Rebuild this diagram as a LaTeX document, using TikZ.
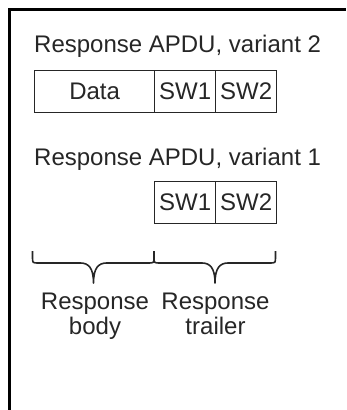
\documentclass[tikz,border=0pt]{standalone}
\usepackage{fontspec}
\setmainfont{Liberation Sans}
\usetikzlibrary{calc}
% curly brace hanging below a span: #1 left end, #2 right end (x values), #3 tip x
\newcommand\spanbrace[3]{%
  \draw[bracepath] (#1,251) -- (#1,257) .. controls (#1,263) .. ($(#1,263)+(6,0)$)
    -- ($(#3,263)-(13,0)$) .. controls ($(#3,263)-(5,0)$) and (#3,268) .. (#3,283)
    .. controls (#3,268) and ($(#3,263)+(5,0)$) .. ($(#3,263)+(13,0)$)
    -- ($(#2,263)-(6,0)$) .. controls (#2,263) .. (#2,257) -- (#2,251);}
\begin{document}
\begin{tikzpicture}[x=1pt,y=-1pt,
  txt/.style={font=\fontsize{24}{25}\selectfont, text=black!85, inner sep=0pt},
  field/.style={draw=black!85, line width=1.3pt, inner sep=0pt, minimum height=42pt,
    font=\fontsize{24}{25}\selectfont, text=black!85},
  bracepath/.style={draw=black!85, line width=1.6pt, line join=round},
  frameline/.style={draw=black, line width=2.6pt}]
\useasboundingbox (0,0) rectangle (346,410);

% outer frame (only top and left edges visible)
\draw[frameline] (9.5,410) -- (9.5,9.5) -- (346,9.5);

% variant 2: data plus trailer
\node[txt, anchor=base west] (t2) at (34,52) {Response APDU, variant 2};
\node[field, minimum width=120pt, anchor=north west] (data) at (34,70) {Data};
\node[field, minimum width=61pt, anchor=north west] (sw1a) at (154,70) {SW1};
\node[field, minimum width=61pt, anchor=north west] (sw2a) at (215,70) {SW2};

% variant 1: trailer only
\node[txt, anchor=base west] (t1) at (34,165) {Response APDU, variant 1};
\node[field, minimum width=61pt, anchor=north west] (sw1b) at (154,181) {SW1};
\node[field, minimum width=61pt, anchor=north west] (sw2b) at (215,181) {SW2};

% braces and their labels
\spanbrace{32.5}{154}{93.5}
\spanbrace{154}{275.5}{215}
\node[txt, align=center, anchor=north] (body) at (95,292.5) {Response\\body};
\node[txt, align=center, anchor=north] (trailer) at (215.5,292.5) {Response\\trailer};
\end{tikzpicture}
\end{document}
